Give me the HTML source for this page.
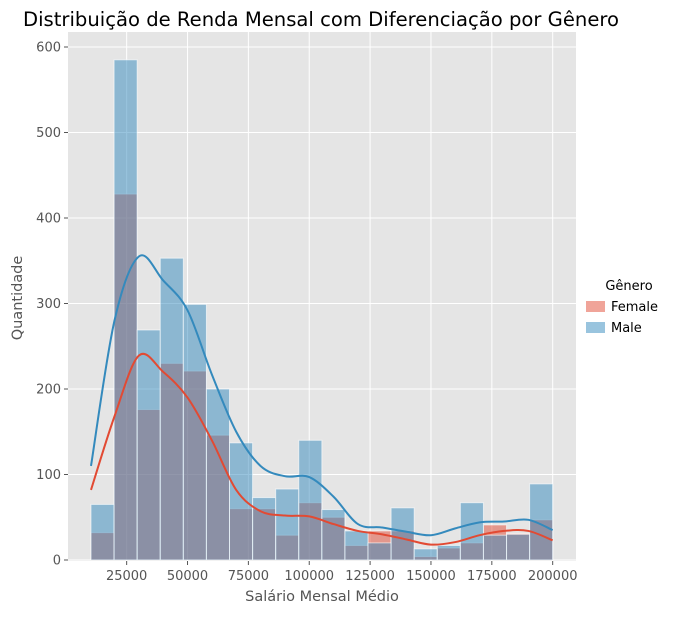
<!DOCTYPE html>
<html><head><meta charset="utf-8"><style>
body{margin:0;background:#fff;font-family:"DejaVu Sans",sans-serif}
svg text{font-family:"DejaVu Sans","Liberation Sans",sans-serif}
</style></head><body>
<svg id="chart" width="686" height="614"></svg>
<script>
const binStart=10350, binWidth=9483;
const maleCounts=[65,585,269,353,299,200,137,73,83,140,59,34,20,61,13,17,67,29,30,89];
const femaleCounts=[32,428,176,230,221,146,60,60,29,67,50,17,34,34,4,14,20,41,31,47];
const kdeX=[10350,20000,30000,40000,50000,60000,70000,80000,90000,100000,110000,120000,130000,140000,150000,160000,170000,180000,190000,200000];
const maleKde=[110,280,355,327,292,217,150,110,98,97,74,42,38,33,29,37,44,45,47,35];
const femaleKde=[82,168,239,220,190,140,82,57,52,51,42,34,30,24,18,21,29,34,34,23];
const xTicks=[25000,50000,75000,100000,125000,150000,175000,200000];
const yTicks=[0,100,200,300,400,500,600];

const NS='http://www.w3.org/2000/svg';
const svg=document.getElementById('chart');
const L=68,R=576,T=32,B=561;
const xS=v=>65.8+v*0.0024344;
const yS=v=>560-v*0.855;
function mk(tag,attrs,parent){const e=document.createElementNS(NS,tag);for(const k in attrs)e.setAttribute(k,attrs[k]);(parent||svg).appendChild(e);return e;}

const bg=mk('rect',{x:L,y:T,width:R-L,height:B-T,fill:'#E5E5E5'});



yTicks.forEach(t=>{
  const g=mk('line',{x1:L,x2:R,y1:yS(t),y2:yS(t),stroke:'#fff','stroke-width':1});
  
  
  const tk=mk('line',{x1:L-4,x2:L,y1:yS(t),y2:yS(t),stroke:'#555'});
  
  
  const tx=mk('text',{x:L-7,y:yS(t)+4.5,'text-anchor':'end','font-size':13,fill:'#555'});
  tx.textContent=t;
  
  
});
xTicks.forEach(t=>{
  const g=mk('line',{x1:xS(t),x2:xS(t),y1:T,y2:B,stroke:'#fff','stroke-width':1});
  
  
  const tk=mk('line',{x1:xS(t),x2:xS(t),y1:B,y2:B+4,stroke:'#555'});
  
  
  const tx=mk('text',{x:xS(t),y:B+19,'text-anchor':'middle','font-size':13,fill:'#555'});
  tx.textContent=t;
  
  
});

function bars(counts,color,name){
  counts.forEach((c,i)=>{
    const x0=xS(binStart+i*binWidth),x1=xS(binStart+(i+1)*binWidth);
    const r=mk('rect',{x:x0,y:yS(c),width:x1-x0,height:yS(0)-yS(c),fill:color,'fill-opacity':0.5,stroke:'#fff','stroke-opacity':0.6,'stroke-width':1});
    
    
  });
}
bars(femaleCounts,'#E24A33','female-bar');
bars(maleCounts,'#348ABD','male-bar');

function curve(ys,color,name){
  const p=kdeX.map((x,i)=>[xS(x),yS(ys[i])]);
  let d='M'+p[0][0]+','+p[0][1];
  for(let i=0;i<p.length-1;i++){
    const p0=p[Math.max(0,i-1)],p1=p[i],p2=p[i+1],p3=p[Math.min(p.length-1,i+2)];
    const c1=[p1[0]+(p2[0]-p0[0])/6,p1[1]+(p2[1]-p0[1])/6];
    const c2=[p2[0]-(p3[0]-p1[0])/6,p2[1]-(p3[1]-p1[1])/6];
    d+=` C${c1[0]},${c1[1]} ${c2[0]},${c2[1]} ${p2[0]},${p2[1]}`;
  }
  const e=mk('path',{d:d,fill:'none',stroke:color,'stroke-width':2});
  
  
}
curve(femaleKde,'#E24A33','female-kde-line');
curve(maleKde,'#348ABD','male-kde-line');

const title=mk('text',{x:321,y:26,'text-anchor':'middle','font-size':19.6,fill:'#000'});
title.textContent='Distribuição de Renda Mensal com Diferenciação por Gênero';


const xl=mk('text',{x:322,y:601,'text-anchor':'middle','font-size':14.5,fill:'#555'});
xl.textContent='Salário Mensal Médio';


const yl=mk('text',{x:22,y:298,'text-anchor':'middle','font-size':14.5,fill:'#555',transform:'rotate(-90 22 298)'});
yl.textContent='Quantidade';



const lt=mk('text',{x:629,y:290,'text-anchor':'middle','font-size':13,fill:'#000'});
lt.textContent='Gênero';


[['Female','#E24A33',306],['Male','#348ABD',327]].forEach(([n,c,y])=>{
  const r=mk('rect',{x:586,y:y-5,width:19,height:11,fill:c,'fill-opacity':0.5});
  
  
  const t=mk('text',{x:611,y:y+5,'font-size':13,fill:'#000'});
  t.textContent=n;
  
  
});
</script>
</body></html>
